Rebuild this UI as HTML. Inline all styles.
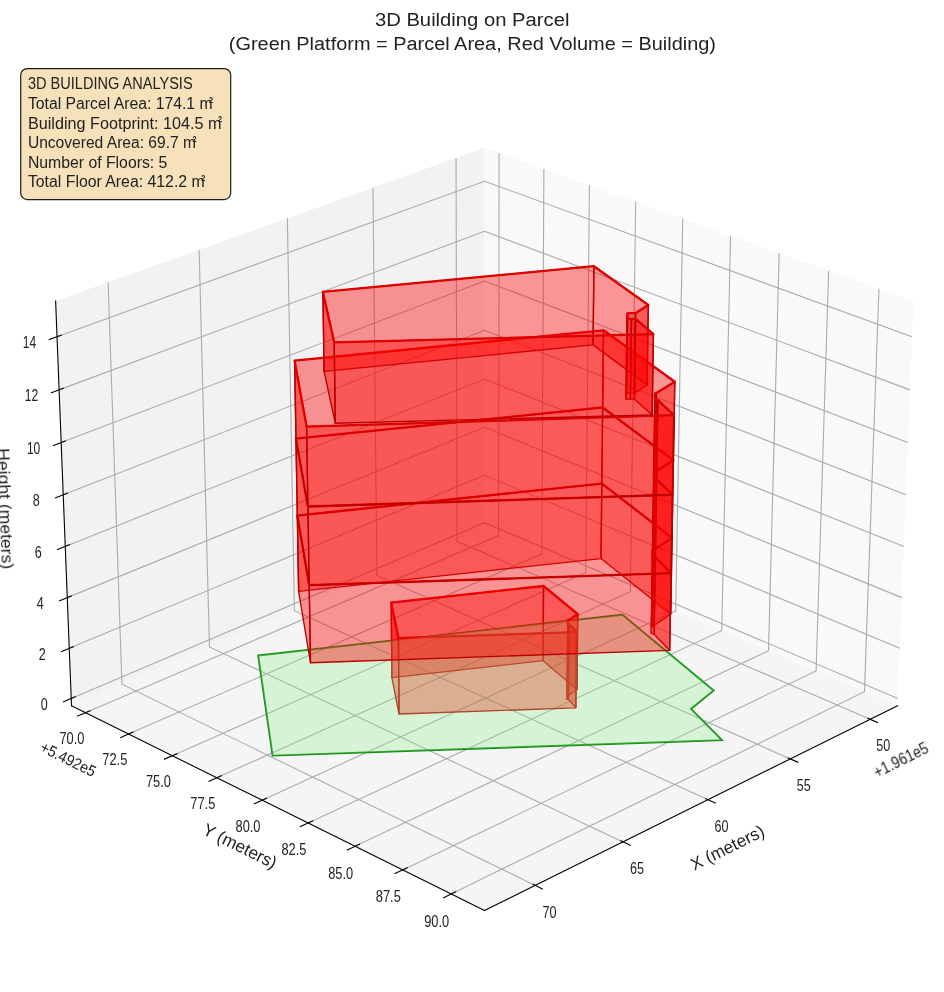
<!DOCTYPE html>
<html><head><meta charset="utf-8"><title>3D Building on Parcel</title>
<style>html,body{margin:0;padding:0;background:#fff}body{width:944px;height:992px;overflow:hidden}</style></head>
<body>
<svg width="944" height="992" viewBox="0 0 944 992" style="display:block;opacity:0.999;font-family:'Liberation Sans',sans-serif">
<rect width="944" height="992" fill="#fff"/>
<polygon points="55.62,301.09 484.54,147.77 484.54,529.54 71.51,705.76" fill="#f2f2f2"/>
<polygon points="484.54,147.77 913.46,301.09 897.58,705.76 484.54,529.54" fill="#f9f9f9"/>
<polygon points="71.51,705.76 484.54,529.54 897.58,705.76 484.54,910.52" fill="#f5f5f5"/>
<g fill="none" stroke="#ababab" stroke-width="1.1">
<polyline points="870.21,719.33 457.03,541.28 456.04,157.96"/>
<polyline points="790.37,758.91 376.89,575.47 372.97,187.65"/>
<polyline points="708.01,799.74 294.40,610.67 287.37,218.25"/>
<polyline points="623.00,841.88 209.45,646.91 199.13,249.79"/>
<polyline points="535.22,885.40 121.93,684.25 108.11,282.32"/>
<polyline points="85.48,712.69 498.59,535.53 499.09,152.97"/>
<polyline points="128.51,734.02 541.82,553.98 543.89,168.98"/>
<polyline points="172.27,755.71 585.73,572.71 589.41,185.25"/>
<polyline points="216.77,777.78 630.34,591.74 635.68,201.79"/>
<polyline points="262.04,800.22 675.66,611.08 682.72,218.61"/>
<polyline points="308.10,823.05 721.71,630.73 730.55,235.70"/>
<polyline points="354.97,846.29 768.51,650.70 779.18,253.09"/>
<polyline points="402.67,869.93 816.08,670.99 828.65,270.77"/>
<polyline points="451.23,894.00 864.43,691.62 878.96,288.75"/>
<polyline points="71.22,698.55 484.54,522.71 897.86,698.55"/>
<polyline points="69.25,648.33 484.54,475.23 899.83,648.33"/>
<polyline points="67.26,597.63 484.54,427.32 901.82,597.63"/>
<polyline points="65.25,546.44 484.54,378.99 903.83,546.44"/>
<polyline points="63.22,494.75 484.54,330.22 905.86,494.75"/>
<polyline points="61.18,442.57 484.54,281.01 907.91,442.57"/>
<polyline points="59.11,389.87 484.54,231.35 909.98,389.87"/>
<polyline points="57.02,336.66 484.54,181.24 912.07,336.66"/>
</g>
<g fill="none" stroke="#000" stroke-width="1.1" stroke-linecap="square">
<polyline points="55.62,301.09 71.51,705.76"/><polyline points="71.51,705.76 484.54,910.52"/><polyline points="484.54,910.52 897.58,705.76"/>
<line x1="75.27" y1="696.83" x2="63.59" y2="701.80"/>
<line x1="73.31" y1="646.64" x2="61.59" y2="651.52"/>
<line x1="71.34" y1="595.96" x2="59.58" y2="600.76"/>
<line x1="69.34" y1="544.81" x2="57.55" y2="549.52"/>
<line x1="67.32" y1="493.15" x2="55.49" y2="497.77"/>
<line x1="65.29" y1="441.00" x2="53.42" y2="445.53"/>
<line x1="63.23" y1="388.33" x2="51.33" y2="392.77"/>
<line x1="61.15" y1="335.15" x2="49.22" y2="339.49"/>
<line x1="90.08" y1="710.72" x2="77.67" y2="716.04"/>
<line x1="133.09" y1="732.03" x2="120.72" y2="737.42"/>
<line x1="176.84" y1="753.69" x2="164.49" y2="759.15"/>
<line x1="221.33" y1="775.72" x2="209.02" y2="781.26"/>
<line x1="266.59" y1="798.14" x2="254.31" y2="803.75"/>
<line x1="312.64" y1="820.94" x2="300.40" y2="826.64"/>
<line x1="359.49" y1="844.15" x2="347.29" y2="849.92"/>
<line x1="407.18" y1="867.77" x2="395.01" y2="873.62"/>
<line x1="455.72" y1="891.80" x2="443.59" y2="897.74"/>
<line x1="868.00" y1="718.38" x2="877.56" y2="722.50"/>
<line x1="788.18" y1="757.94" x2="797.68" y2="762.15"/>
<line x1="705.83" y1="798.74" x2="715.28" y2="803.07"/>
<line x1="620.83" y1="840.86" x2="630.24" y2="845.29"/>
<line x1="533.06" y1="884.35" x2="542.41" y2="888.90"/>
</g>
<polygon points="258.20,655.50 622.30,614.80 713.60,690.60 690.90,708.90 721.90,740.20 272.60,755.60" fill="none" stroke="#158c15" stroke-width="1.9" stroke-linejoin="miter"/>
<g>
<polygon points="391.88,677.70 543.10,660.64 543.51,586.01 391.22,602.67" fill="#ff0000" fill-opacity="0.4" stroke="#b80000" stroke-width="1.35" stroke-linejoin="round"/>
<polygon points="543.10,660.64 577.03,689.44 577.70,614.14 543.51,586.01" fill="#ff0000" fill-opacity="0.4" stroke="#b80000" stroke-width="1.35" stroke-linejoin="round"/>
<polygon points="577.03,689.44 567.88,695.68 568.47,620.24 577.70,614.14" fill="#ff0000" fill-opacity="0.4" stroke="#b80000" stroke-width="1.35" stroke-linejoin="round"/>
<polygon points="567.88,695.68 567.19,695.84 567.78,620.40 568.47,620.24" fill="#ff0000" fill-opacity="0.4" stroke="#b80000" stroke-width="1.35" stroke-linejoin="round"/>
<polygon points="399.06,714.04 391.88,677.70 391.22,602.67 398.44,638.17" fill="#ff0000" fill-opacity="0.4" stroke="#b80000" stroke-width="1.35" stroke-linejoin="round"/>
<polygon points="567.19,695.84 567.07,699.25 567.67,623.73 567.78,620.40" fill="#ff0000" fill-opacity="0.4" stroke="#b80000" stroke-width="1.35" stroke-linejoin="round"/>
<polygon points="567.07,699.25 568.46,699.64 569.07,624.10 567.67,623.73" fill="#ff0000" fill-opacity="0.4" stroke="#b80000" stroke-width="1.35" stroke-linejoin="round"/>
<polygon points="568.46,699.64 575.84,707.84 576.49,632.12 569.07,624.10" fill="#ff0000" fill-opacity="0.4" stroke="#b80000" stroke-width="1.35" stroke-linejoin="round"/>
<polygon points="575.84,707.84 399.06,714.04 398.44,638.17 576.49,632.12" fill="#ff0000" fill-opacity="0.4" stroke="#b80000" stroke-width="1.35" stroke-linejoin="round"/>
<polygon points="391.22,602.67 543.51,586.01 577.70,614.14 568.47,620.24 567.78,620.40 567.67,623.73 569.07,624.10 576.49,632.12 398.44,638.17" fill="none" stroke="#de0000" stroke-width="2.3" stroke-linejoin="round"/>
</g>
<polygon points="258.20,655.50 622.30,614.80 713.60,690.60 690.90,708.90 721.90,740.20 272.60,755.60" fill="#90ee90" fill-opacity="0.3"/>
<g>
<polygon points="298.63,591.37 601.01,558.57 601.83,483.55 297.31,515.54" fill="#ff0000" fill-opacity="0.4" stroke="#b80000" stroke-width="1.35" stroke-linejoin="round"/>
<polygon points="601.01,558.57 670.72,614.20 672.06,537.82 601.83,483.55" fill="#ff0000" fill-opacity="0.4" stroke="#b80000" stroke-width="1.35" stroke-linejoin="round"/>
<polygon points="670.72,614.20 652.70,626.42 653.91,549.74 672.06,537.82" fill="#ff0000" fill-opacity="0.4" stroke="#b80000" stroke-width="1.35" stroke-linejoin="round"/>
<polygon points="652.70,626.42 651.33,626.75 652.53,550.06 653.91,549.74" fill="#ff0000" fill-opacity="0.4" stroke="#b80000" stroke-width="1.35" stroke-linejoin="round"/>
<polygon points="310.49,662.75 298.63,591.37 297.31,515.54 309.21,585.19" fill="#ff0000" fill-opacity="0.4" stroke="#b80000" stroke-width="1.35" stroke-linejoin="round"/>
<polygon points="651.33,626.75 651.32,633.45 652.53,556.60 652.53,550.06" fill="#ff0000" fill-opacity="0.4" stroke="#b80000" stroke-width="1.35" stroke-linejoin="round"/>
<polygon points="651.32,633.45 654.15,634.21 655.38,557.34 652.53,556.60" fill="#ff0000" fill-opacity="0.4" stroke="#b80000" stroke-width="1.35" stroke-linejoin="round"/>
<polygon points="654.15,634.21 669.68,650.43 671.04,573.16 655.38,557.34" fill="#ff0000" fill-opacity="0.4" stroke="#b80000" stroke-width="1.35" stroke-linejoin="round"/>
<polygon points="669.68,650.43 310.49,662.75 309.21,585.19 671.04,573.16" fill="#ff0000" fill-opacity="0.4" stroke="#b80000" stroke-width="1.35" stroke-linejoin="round"/>
<polygon points="297.31,515.54 601.83,483.55 672.06,537.82 653.91,549.74 652.53,550.06 652.53,556.60 655.38,557.34 671.04,573.16 309.21,585.19" fill="none" stroke="#de0000" stroke-width="2.3" stroke-linejoin="round"/>
<polygon points="297.31,515.54 601.83,483.55 602.66,407.47 295.96,438.63" fill="#ff0000" fill-opacity="0.4" stroke="#b80000" stroke-width="1.35" stroke-linejoin="round"/>
<polygon points="601.83,483.55 672.06,537.82 673.42,460.32 602.66,407.47" fill="#ff0000" fill-opacity="0.4" stroke="#b80000" stroke-width="1.35" stroke-linejoin="round"/>
<polygon points="672.06,537.82 653.91,549.74 655.15,471.94 673.42,460.32" fill="#ff0000" fill-opacity="0.4" stroke="#b80000" stroke-width="1.35" stroke-linejoin="round"/>
<polygon points="653.91,549.74 652.53,550.06 653.76,472.25 655.15,471.94" fill="#ff0000" fill-opacity="0.4" stroke="#b80000" stroke-width="1.35" stroke-linejoin="round"/>
<polygon points="309.21,585.19 297.31,515.54 295.96,438.63 307.92,506.48" fill="#ff0000" fill-opacity="0.4" stroke="#b80000" stroke-width="1.35" stroke-linejoin="round"/>
<polygon points="652.53,550.06 652.53,556.60 653.75,478.62 653.76,472.25" fill="#ff0000" fill-opacity="0.4" stroke="#b80000" stroke-width="1.35" stroke-linejoin="round"/>
<polygon points="652.53,556.60 655.38,557.34 656.63,479.34 653.75,478.62" fill="#ff0000" fill-opacity="0.4" stroke="#b80000" stroke-width="1.35" stroke-linejoin="round"/>
<polygon points="655.38,557.34 671.04,573.16 672.41,494.76 656.63,479.34" fill="#ff0000" fill-opacity="0.4" stroke="#b80000" stroke-width="1.35" stroke-linejoin="round"/>
<polygon points="671.04,573.16 309.21,585.19 307.92,506.48 672.41,494.76" fill="#ff0000" fill-opacity="0.4" stroke="#b80000" stroke-width="1.35" stroke-linejoin="round"/>
<polygon points="295.96,438.63 602.66,407.47 673.42,460.32 655.15,471.94 653.76,472.25 653.75,478.62 656.63,479.34 672.41,494.76 307.92,506.48" fill="none" stroke="#de0000" stroke-width="2.3" stroke-linejoin="round"/>
<polygon points="295.96,438.63 602.66,407.47 603.50,330.30 294.60,360.60" fill="#ff0000" fill-opacity="0.4" stroke="#b80000" stroke-width="1.35" stroke-linejoin="round"/>
<polygon points="602.66,407.47 673.42,460.32 674.80,381.70 603.50,330.30" fill="#ff0000" fill-opacity="0.4" stroke="#b80000" stroke-width="1.35" stroke-linejoin="round"/>
<polygon points="673.42,460.32 655.15,471.94 656.40,393.00 674.80,381.70" fill="#ff0000" fill-opacity="0.4" stroke="#b80000" stroke-width="1.35" stroke-linejoin="round"/>
<polygon points="655.15,471.94 653.76,472.25 655.00,393.30 656.40,393.00" fill="#ff0000" fill-opacity="0.4" stroke="#b80000" stroke-width="1.35" stroke-linejoin="round"/>
<polygon points="307.92,506.48 295.96,438.63 294.60,360.60 306.60,426.60" fill="#ff0000" fill-opacity="0.4" stroke="#b80000" stroke-width="1.35" stroke-linejoin="round"/>
<polygon points="653.76,472.25 653.75,478.62 655.00,399.50 655.00,393.30" fill="#ff0000" fill-opacity="0.4" stroke="#b80000" stroke-width="1.35" stroke-linejoin="round"/>
<polygon points="653.75,478.62 656.63,479.34 657.90,400.20 655.00,399.50" fill="#ff0000" fill-opacity="0.4" stroke="#b80000" stroke-width="1.35" stroke-linejoin="round"/>
<polygon points="656.63,479.34 672.41,494.76 673.80,415.20 657.90,400.20" fill="#ff0000" fill-opacity="0.4" stroke="#b80000" stroke-width="1.35" stroke-linejoin="round"/>
<polygon points="672.41,494.76 307.92,506.48 306.60,426.60 673.80,415.20" fill="#ff0000" fill-opacity="0.4" stroke="#b80000" stroke-width="1.35" stroke-linejoin="round"/>
<polygon points="294.60,360.60 603.50,330.30 674.80,381.70 656.40,393.00 655.00,393.30 655.00,399.50 657.90,400.20 673.80,415.20 306.60,426.60" fill="none" stroke="#de0000" stroke-width="2.3" stroke-linejoin="round"/>
<polygon points="324.07,371.38 593.11,344.91 593.90,266.20 322.90,291.90" fill="#ff0000" fill-opacity="0.4" stroke="#b80000" stroke-width="1.35" stroke-linejoin="round"/>
<polygon points="593.11,344.91 647.10,384.87 648.30,305.00 593.90,266.20" fill="#ff0000" fill-opacity="0.4" stroke="#b80000" stroke-width="1.35" stroke-linejoin="round"/>
<polygon points="647.10,384.87 634.39,393.32 635.50,313.20 648.30,305.00" fill="#ff0000" fill-opacity="0.4" stroke="#b80000" stroke-width="1.35" stroke-linejoin="round"/>
<polygon points="634.39,393.32 626.55,393.32 627.60,313.20 635.50,313.20" fill="#ff0000" fill-opacity="0.4" stroke="#b80000" stroke-width="1.35" stroke-linejoin="round"/>
<polygon points="626.55,393.32 625.95,399.19 627.00,318.90 627.60,313.20" fill="#ff0000" fill-opacity="0.4" stroke="#b80000" stroke-width="1.35" stroke-linejoin="round"/>
<polygon points="335.32,423.28 324.07,371.38 322.90,291.90 334.20,342.30" fill="#ff0000" fill-opacity="0.4" stroke="#b80000" stroke-width="1.35" stroke-linejoin="round"/>
<polygon points="625.95,399.19 630.42,399.19 631.50,318.90 627.00,318.90" fill="#ff0000" fill-opacity="0.4" stroke="#b80000" stroke-width="1.35" stroke-linejoin="round"/>
<polygon points="630.42,399.19 634.49,399.19 635.60,318.90 631.50,318.90" fill="#ff0000" fill-opacity="0.4" stroke="#b80000" stroke-width="1.35" stroke-linejoin="round"/>
<polygon points="634.49,399.19 652.15,414.94 653.40,334.20 635.60,318.90" fill="#ff0000" fill-opacity="0.4" stroke="#b80000" stroke-width="1.35" stroke-linejoin="round"/>
<polygon points="652.15,414.94 335.32,423.28 334.20,342.30 653.40,334.20" fill="#ff0000" fill-opacity="0.4" stroke="#b80000" stroke-width="1.35" stroke-linejoin="round"/>
<polygon points="322.90,291.90 593.90,266.20 648.30,305.00 635.50,313.20 627.60,313.20 627.00,318.90 631.50,318.90 635.60,318.90 653.40,334.20 334.20,342.30" fill="none" stroke="#de0000" stroke-width="2.3" stroke-linejoin="round"/>
</g>
<g style="will-change:transform">
<text x="472.20" y="25.60" font-size="19.2" text-anchor="middle" fill="#222222" textLength="194.6" lengthAdjust="spacingAndGlyphs">3D Building on Parcel</text>
<text x="472.40" y="49.60" font-size="19.2" text-anchor="middle" fill="#222222" textLength="487.2" lengthAdjust="spacingAndGlyphs">(Green Platform = Parcel Area, Red Volume = Building)</text>
<rect x="20.7" y="68.6" width="210" height="131" rx="6.5" ry="6.5" fill="#f6e1bb" stroke="#1e1e1e" stroke-width="1.2"/>
<text x="27.90" y="89.30" font-size="16" text-anchor="start" fill="#222222" textLength="164.7" lengthAdjust="spacingAndGlyphs">3D BUILDING ANALYSIS</text>
<text x="27.90" y="108.90" font-size="16" text-anchor="start" fill="#222222" textLength="184.7" lengthAdjust="spacingAndGlyphs">Total Parcel Area: 174.1 m</text>
<text x="209.10" y="102.50" font-size="8.2" text-anchor="start" fill="#222222" textLength="4.1" lengthAdjust="spacingAndGlyphs" font-weight="bold">2</text>
<text x="27.90" y="128.50" font-size="16" text-anchor="start" fill="#222222" textLength="193.5" lengthAdjust="spacingAndGlyphs">Building Footprint: 104.5 m</text>
<text x="217.90" y="122.10" font-size="8.2" text-anchor="start" fill="#222222" textLength="4.1" lengthAdjust="spacingAndGlyphs" font-weight="bold">2</text>
<text x="27.90" y="148.10" font-size="16" text-anchor="start" fill="#222222" textLength="168.1" lengthAdjust="spacingAndGlyphs">Uncovered Area: 69.7 m</text>
<text x="192.50" y="141.70" font-size="8.2" text-anchor="start" fill="#222222" textLength="4.1" lengthAdjust="spacingAndGlyphs" font-weight="bold">2</text>
<text x="27.90" y="167.70" font-size="16" text-anchor="start" fill="#222222" textLength="139.5" lengthAdjust="spacingAndGlyphs">Number of Floors: 5</text>
<text x="27.90" y="187.30" font-size="16" text-anchor="start" fill="#222222" textLength="176.8" lengthAdjust="spacingAndGlyphs">Total Floor Area: 412.2 m</text>
<text x="201.20" y="180.90" font-size="8.2" text-anchor="start" fill="#222222" textLength="4.1" lengthAdjust="spacingAndGlyphs" font-weight="bold">2</text>
<text x="44.32" y="710.05" font-size="15.7" text-anchor="middle" fill="#222222" textLength="7.0" lengthAdjust="spacingAndGlyphs">0</text>
<text x="42.35" y="659.83" font-size="15.7" text-anchor="middle" fill="#222222" textLength="7.0" lengthAdjust="spacingAndGlyphs">2</text>
<text x="40.36" y="609.13" font-size="15.7" text-anchor="middle" fill="#222222" textLength="7.0" lengthAdjust="spacingAndGlyphs">4</text>
<text x="38.35" y="557.94" font-size="15.7" text-anchor="middle" fill="#222222" textLength="7.0" lengthAdjust="spacingAndGlyphs">6</text>
<text x="36.32" y="506.25" font-size="15.7" text-anchor="middle" fill="#222222" textLength="7.0" lengthAdjust="spacingAndGlyphs">8</text>
<text x="33.58" y="454.07" font-size="15.7" text-anchor="middle" fill="#222222" textLength="13.4" lengthAdjust="spacingAndGlyphs">10</text>
<text x="31.51" y="401.37" font-size="15.7" text-anchor="middle" fill="#222222" textLength="13.4" lengthAdjust="spacingAndGlyphs">12</text>
<text x="29.42" y="348.16" font-size="15.7" text-anchor="middle" fill="#222222" textLength="13.4" lengthAdjust="spacingAndGlyphs">14</text>
<text x="71.88" y="743.79" font-size="15.7" text-anchor="middle" fill="#222222" textLength="25.0" lengthAdjust="spacingAndGlyphs">70.0</text>
<text x="114.80" y="765.32" font-size="15.7" text-anchor="middle" fill="#222222" textLength="25.0" lengthAdjust="spacingAndGlyphs">72.5</text>
<text x="158.44" y="787.21" font-size="15.7" text-anchor="middle" fill="#222222" textLength="25.0" lengthAdjust="spacingAndGlyphs">75.0</text>
<text x="202.83" y="809.48" font-size="15.7" text-anchor="middle" fill="#222222" textLength="25.0" lengthAdjust="spacingAndGlyphs">77.5</text>
<text x="247.99" y="832.12" font-size="15.7" text-anchor="middle" fill="#222222" textLength="25.0" lengthAdjust="spacingAndGlyphs">80.0</text>
<text x="293.94" y="855.15" font-size="15.7" text-anchor="middle" fill="#222222" textLength="25.0" lengthAdjust="spacingAndGlyphs">82.5</text>
<text x="340.70" y="878.59" font-size="15.7" text-anchor="middle" fill="#222222" textLength="25.0" lengthAdjust="spacingAndGlyphs">85.0</text>
<text x="388.29" y="902.43" font-size="15.7" text-anchor="middle" fill="#222222" textLength="25.0" lengthAdjust="spacingAndGlyphs">87.5</text>
<text x="436.73" y="926.70" font-size="15.7" text-anchor="middle" fill="#222222" textLength="25.0" lengthAdjust="spacingAndGlyphs">90.0</text>
<text x="883.21" y="750.73" font-size="15.7" text-anchor="middle" fill="#222222" textLength="14.0" lengthAdjust="spacingAndGlyphs">50</text>
<text x="803.67" y="790.68" font-size="15.7" text-anchor="middle" fill="#222222" textLength="14.0" lengthAdjust="spacingAndGlyphs">55</text>
<text x="721.61" y="831.89" font-size="15.7" text-anchor="middle" fill="#222222" textLength="14.0" lengthAdjust="spacingAndGlyphs">60</text>
<text x="636.90" y="874.40" font-size="15.7" text-anchor="middle" fill="#222222" textLength="14.0" lengthAdjust="spacingAndGlyphs">65</text>
<text x="549.42" y="918.30" font-size="15.7" text-anchor="middle" fill="#222222" textLength="14.0" lengthAdjust="spacingAndGlyphs">70</text>
<text x="237.40" y="851.40" font-size="17.4" text-anchor="middle" fill="#222222" textLength="80.0" lengthAdjust="spacingAndGlyphs" transform="rotate(26.37 237.40 851.40)">Y (meters)</text>
<text x="730.00" y="853.00" font-size="17.4" text-anchor="middle" fill="#222222" textLength="80.0" lengthAdjust="spacingAndGlyphs" transform="rotate(-26.37 730.00 853.00)">X (meters)</text>
<text x="-0.40" y="509.00" font-size="17.4" text-anchor="middle" fill="#222222" textLength="121.0" lengthAdjust="spacingAndGlyphs" transform="rotate(87.75 -0.40 509.00)">Height (meters)</text>
<text x="65.80" y="764.00" font-size="15.7" text-anchor="middle" fill="#222222" textLength="60.0" lengthAdjust="spacingAndGlyphs" transform="rotate(26.37 65.80 764.00)">+5.492e5</text>
<text x="903.20" y="764.50" font-size="15.7" text-anchor="middle" fill="#222222" textLength="59.0" lengthAdjust="spacingAndGlyphs" transform="rotate(-26.37 903.20 764.50)">+1.961e5</text>
</g>
</svg>
</body></html>
